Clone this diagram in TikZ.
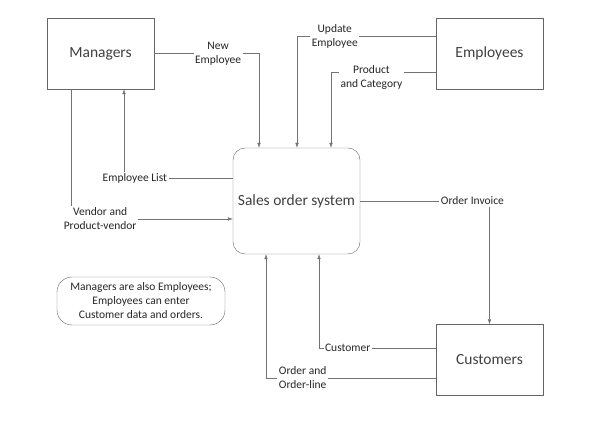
\documentclass[tikz,border=0pt]{standalone}
\usepackage{fontspec}
\setmainfont{Carlito}
\usetikzlibrary{arrows.meta}
\begin{document}
\begin{tikzpicture}[x=1pt,y=-1pt,
    entity/.style={draw=black!60, minimum width=107pt, minimum height=71pt,
      font=\fontsize{15.5}{18}\selectfont, text=black!75},
    flow/.style={draw=black!55, -{Latex[length=5pt,width=3.5pt]}},
    lbl/.style={fill=white, inner sep=1.5pt, align=center,
      font=\fontsize{11.5}{14}\selectfont, text=black!85}]
        \useasboundingbox (0,0) rectangle (589,430);
        % external entities and the process
        \node[entity] (mgr) at (100.5,53.5) {Managers};
        \node[entity] (emp) at (489.5,53.5) {Employees};
        \node[entity] (cust) at (489.5,360) {Customers};
        \node[entity, rounded corners=12pt, minimum width=127pt, minimum height=106pt] (sys) at (296.5,201) {Sales order system};
        \node[draw=black!60, rounded corners=15pt, minimum width=168pt, minimum height=48pt, align=center,
          font=\fontsize{11.5}{14}\selectfont, text=black!85] (note) at (141,301)
          {Managers are also Employees;\\Employees can enter\\Customer data and orders.};
        % data flows
        \draw[flow] (mgr.east) -| node[lbl, pos=0.305] {New\\Employee} ([xshift=-37.5pt]sys.north);
        \draw[flow] ([yshift=17.5pt]emp.west) -| node[lbl, pos=0.364] {Update\\Employee} ([xshift=0.5pt]sys.north);
        \draw[flow] ([yshift=-18.5pt]emp.west) -| node[lbl, pos=0.307, yshift=-5pt] {Product\\and Category} ([xshift=34.5pt]sys.north);
        \draw[flow] ([yshift=23pt]sys.west) -| node[lbl, pos=0.45] {Employee List} ([xshift=23.5pt]mgr.south);
        \draw[flow] ([xshift=-29.5pt]mgr.south) |- node[lbl, pos=0.59] {Vendor and\\Product-vendor} ([yshift=-18pt]sys.west);
        \draw[flow] (sys.east) -| node[lbl, pos=0.434] {Order Invoice} (cust.north);
        \draw[flow] ([yshift=12pt]cust.west) -| node[lbl, pos=0.377] {Customer} ([xshift=22.5pt]sys.south);
        \draw[flow] ([yshift=-18pt]cust.west) -| node[lbl, pos=0.392, align=left] {Order and\\Order-line} ([xshift=-30.5pt]sys.south);
\end{tikzpicture}
\end{document}
